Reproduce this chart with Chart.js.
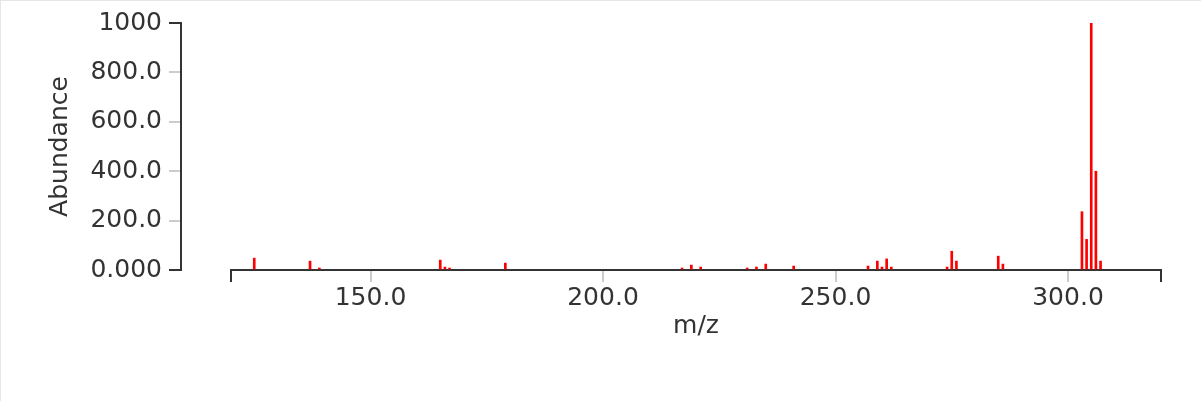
<!DOCTYPE html>
<html>
<head>
<meta charset="utf-8">
<script src="https://cdn.jsdelivr.net/npm/chart.js@4/dist/chart.umd.min.js"></script>
<style>
  html, body { margin: 0; padding: 0; background: #fff; }
  #wrap { width: 1201px; height: 401px; box-sizing: border-box; border-top: 1px solid #e6e6e6; border-left: 1px solid #e6e6e6; position: relative; }
  canvas { display: block; }
</style>
</head>
<body>
<div id="wrap"><canvas id="c" width="1200" height="400"></canvas></div>
<script>
// ---- data ----
const mz = [125, 137, 139, 165, 166, 167, 179, 217, 219, 221, 231, 233, 235, 241, 257, 259, 260, 261, 262, 274, 275, 276, 285, 286, 303, 304, 305, 306, 307];
const abundance = [48, 36, 8, 40, 12, 8, 28, 8, 20, 12, 8, 12, 24, 16, 16, 36, 12, 45, 12, 12, 76, 36, 56, 24, 236, 124, 1000, 400, 36];
const xDomain = [120, 320];
const xTickValues = [150, 200, 250, 300];
const xTickLabels = ['150.0', '200.0', '250.0', '300.0'];
const yTickValues = [0, 200, 400, 600, 800, 1000];
const yTickLabels = ['0.000', '200.0', '400.0', '600.0', '800.0', '1000'];
const xTitle = 'm/z';
const yTitle = 'Abundance';

const FONT = { family: "'DejaVu Sans', Verdana, sans-serif", size: 25 };
const DARK = '#333';
const LIGHT = '#cccccc';

const points = mz.map((m, i) => ({ x: m, y: abundance[i] }));

const shiftYAxis = {
  id: 'shiftYAxis',
  afterLayout(chart) {
    const y = chart.scales.y;
    y.right = y.right - 50;
    y.width = y.right - y.left;
  }
};

new Chart(document.getElementById('c'), {
  type: 'bar',
  data: {
    datasets: [{
      data: points,
      backgroundColor: 'rgb(255,0,0)',
      borderWidth: 0,
      barThickness: 2
    }]
  },
  options: {
    responsive: false,
    animation: false,
    layout: { padding: { top: 19, right: 40, left: 0, bottom: 0 } },
    plugins: { legend: { display: false }, tooltip: { enabled: false } },
    scales: {
      x: {
        type: 'linear',
        offset: false,
        min: xDomain[0],
        max: xDomain[1],
        afterBuildTicks(scale) {
          scale.ticks = [xDomain[0], ...xTickValues, xDomain[1]].map(v => ({ value: v }));
        },
        afterFit(scale) { scale.height = 131; },
        border: { display: true, color: DARK, width: 2 },
        grid: {
          offset: false,
          drawOnChartArea: false,
          drawTicks: true,
          tickLength: 12,
          lineWidth: 2,
          color: ctx => (ctx.tick && (ctx.tick.value === xDomain[0] || ctx.tick.value === xDomain[1])) ? DARK : LIGHT
        },
        ticks: {
          autoSkip: false,
          maxRotation: 0,
          minRotation: 0,
          padding: 1,
          color: DARK,
          font: FONT,
          callback: (v) => {
            const i = xTickValues.indexOf(v);
            return i >= 0 ? xTickLabels[i] : '';
          }
        },
        title: {
          display: true,
          text: xTitle,
          color: DARK,
          font: FONT,
          padding: { top: 0, bottom: 60 }
        }
      },
      y: {
        type: 'linear',
        min: 0,
        max: 1000,
        afterBuildTicks(scale) {
          scale.ticks = yTickValues.map(v => ({ value: v }));
        },
        afterFit(scale) { scale.width = 230; },
        border: { display: true, color: DARK, width: 2 },
        grid: {
          drawOnChartArea: false,
          drawTicks: true,
          tickLength: 12,
          lineWidth: 2,
          color: ctx => (ctx.tick && (ctx.tick.value === 0 || ctx.tick.value === 1000)) ? DARK : LIGHT
        },
        ticks: {
          padding: 7,
          color: DARK,
          font: FONT,
          callback: (v) => {
            const i = yTickValues.indexOf(v);
            return i >= 0 ? yTickLabels[i] : '';
          }
        },
        title: {
          display: true,
          text: yTitle,
          color: DARK,
          font: FONT,
          padding: { top: 44, bottom: 0 }
        }
      }
    }
  },
  plugins: [shiftYAxis]
});
</script>
</body>
</html>
